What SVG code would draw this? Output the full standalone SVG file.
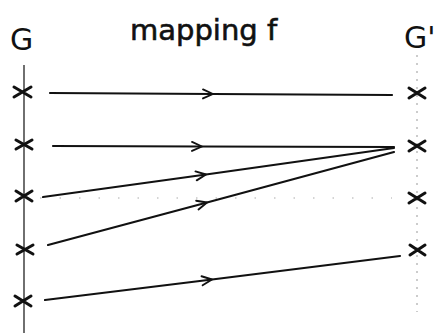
<svg xmlns="http://www.w3.org/2000/svg" width="439" height="333" viewBox="0 0 439 333">
<style>
.lbl{font-family:"Comic Sans MS","DejaVu Sans",sans-serif;fill:#111}
.x{stroke:#111;stroke-width:3;stroke-linecap:round;fill:none}
.map{stroke:#111;stroke-width:2.2;fill:none;stroke-linecap:round}
</style>
<defs>
<marker id="chev" viewBox="-12 -7 14 14" markerWidth="14" markerHeight="14" refX="0" refY="0" orient="auto" markerUnits="userSpaceOnUse">
<path d="M-10,-4.5 L0,0 L-10,4.5" fill="none" stroke="#111" stroke-width="1.9" stroke-linecap="round" stroke-linejoin="round"/>
</marker>
</defs>
<rect width="439" height="333" fill="#fff"/>
<g id="titles">
<text class="lbl" x="10" y="50" font-size="30">G</text>
<text class="lbl" x="130" y="40" font-size="29" stroke="#111" stroke-width="0.6">mapping f</text>
<text class="lbl" x="404" y="48" font-size="30">G'</text>
</g>
<g id="axis-G">
<line x1="24" y1="65" x2="24" y2="333" stroke="#333" stroke-width="1.4"/>
</g>
<g id="axis-G2">
<line x1="417" y1="55" x2="417" y2="312" stroke="#999" stroke-width="1" stroke-dasharray="2 6"/>
</g>
<g id="guide">
<line x1="40" y1="198" x2="392" y2="198" stroke="#aaa" stroke-width="1" stroke-dasharray="1.5 18"/>
</g>
<g id="G-1"><path class="x" d="M14,87 L31,97 M14,97 L31,87"/></g>
<g id="G-2"><path class="x" d="M16,140 L32,149 M16,149 L32,140"/></g>
<g id="G-3"><path class="x" d="M16,191 L32,201 M16,201 L32,191"/></g>
<g id="G-4"><path class="x" d="M17,245 L33,254 M17,254 L33,245"/></g>
<g id="G-5"><path class="x" d="M15,296 L31,306 M15,306 L31,296"/></g>
<g id="G2-1"><path class="x" d="M409,88 L425,98 M409,98 L425,88"/></g>
<g id="G2-2"><path class="x" d="M409,141 L425,151 M409,151 L425,141"/></g>
<g id="G2-3"><path class="x" d="M409,193 L425,203 M409,203 L425,193"/></g>
<g id="G2-4"><path class="x" d="M410,245 L425,255 M410,255 L425,245"/></g>
<g id="connectors">
<path class="map" marker-mid="url(#chev)" d="M50,93 L213,94 L392,95"/>
<path class="map" marker-mid="url(#chev)" d="M53,146 L202,146.5 L394,147"/>
<path class="map" marker-mid="url(#chev)" d="M43,197 L206,174.5 L394,148"/>
<path class="map" marker-mid="url(#chev)" d="M48,245 L207,202.5 L394,152"/>
<path class="map" marker-mid="url(#chev)" d="M45,300 L212,279.5 L400,256"/>
</g>
</svg>
